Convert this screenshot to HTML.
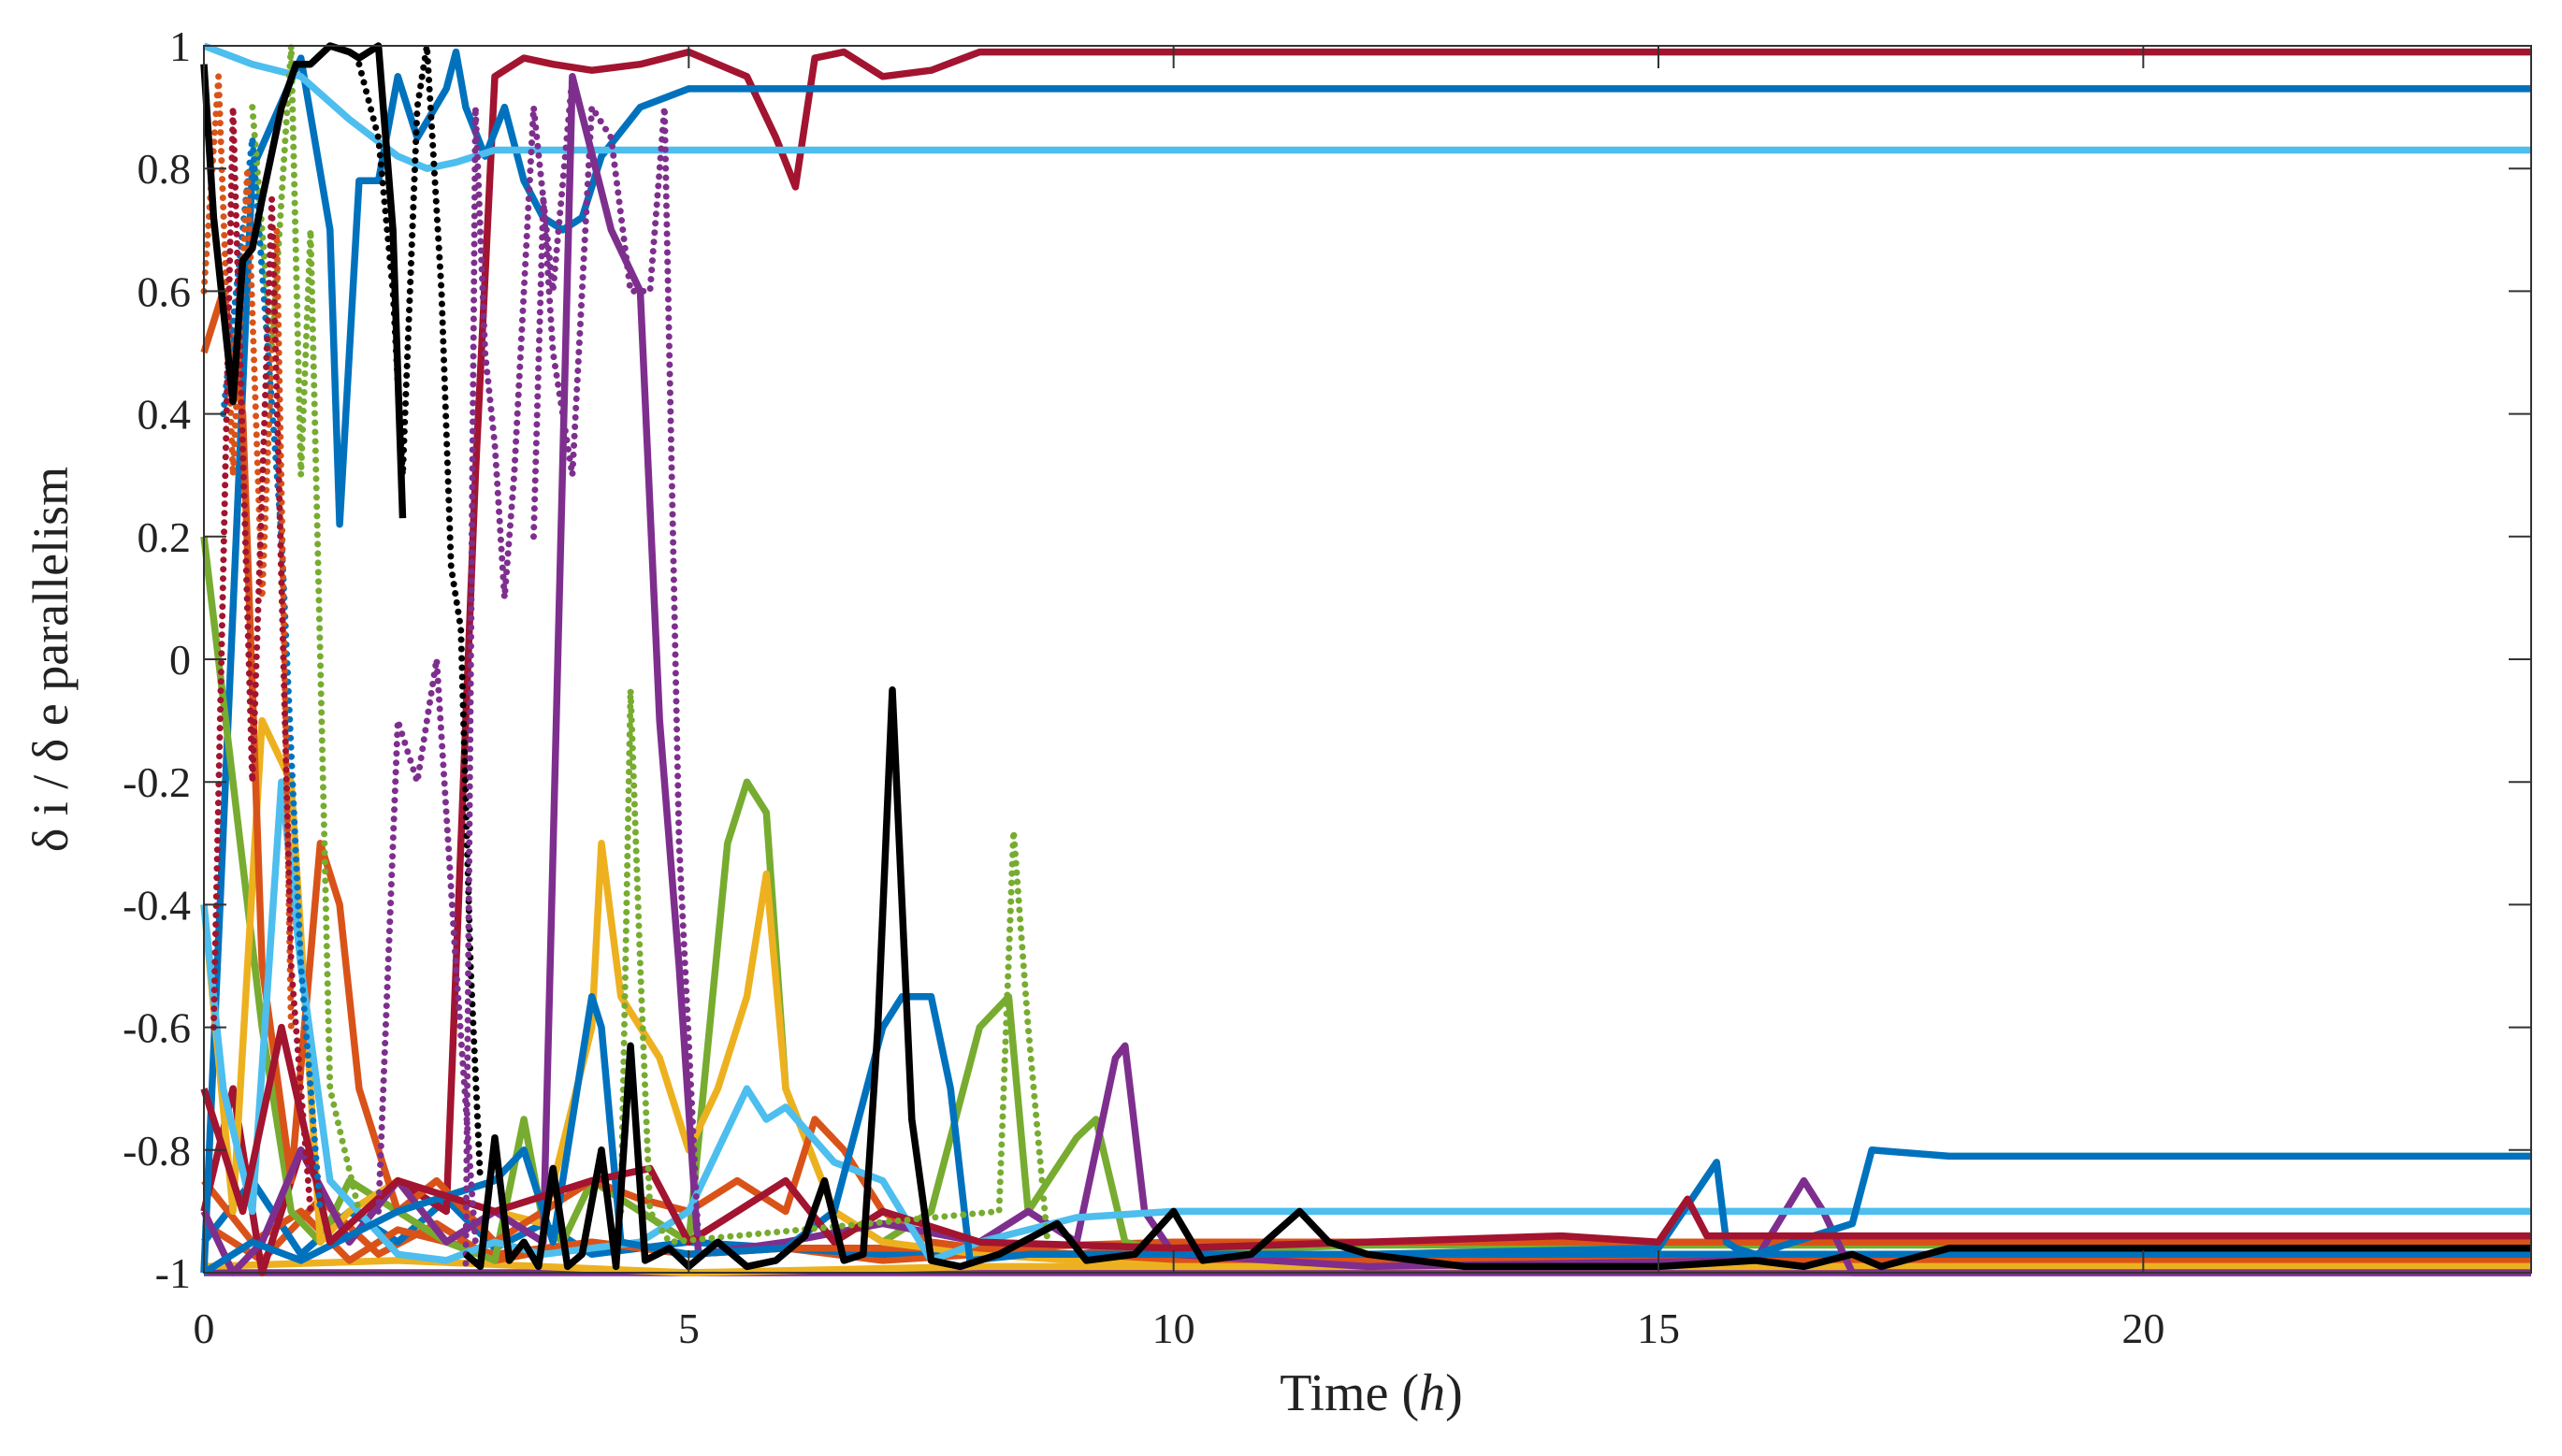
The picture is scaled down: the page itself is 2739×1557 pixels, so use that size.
<!DOCTYPE html>
<html><head><meta charset="utf-8"><style>
html,body{margin:0;padding:0;background:#fff;}
svg{display:block;font-family:"Liberation Serif",serif;}
</style></head><body>
<svg id="chart" width="2739" height="1557" viewBox="0 0 2739 1557" xmlns="http://www.w3.org/2000/svg">
<g id="plot"></g>
<g id="axes"></g>
<text x="1466" y="1508" font-size="56" text-anchor="middle" fill="#222">Time (<tspan font-style="italic">h</tspan>)</text>
<text transform="translate(72,705) rotate(-90)" font-size="54" text-anchor="middle" fill="#222">δ i / δ e parallelism</text>
</svg>
<script>
const xTicks=[0,5,10,15,20];
const yTicks=[-1,-0.8,-0.6,-0.4,-0.2,0,0.2,0.4,0.6,0.8,1];
const yTickLabels=["-1","-0.8","-0.6","-0.4","-0.2","0","0.2","0.4","0.6","0.8","1"];
const colors={b:"#0072BD",o:"#D95319",y:"#EDB120",p:"#7E2F8E",g:"#77AC30",c:"#4DBEEE",r:"#A2142F",k:"#000000"};
const s1T=[0,0.3,0.6,1,1.5,2,2.5,2.8,3.0,3.3,3.6,4,4.5,5,5.3,5.6,5.9,6.1,6.3,6.6,7,7.5,8,24];
const s1V=[-0.9,-0.7,-1,-0.8,-0.95,-0.85,-0.9,0.3,0.95,0.98,0.97,0.96,0.97,0.99,0.97,0.95,0.85,0.77,0.98,0.99,0.95,0.96,0.99,0.99];
const s2T=[0,0.5,1,1.3,1.4,1.6,1.8,2,2.2,2.5,2.6,2.7,2.9,3.1,3.3,3.5,3.7,3.9,4.1,4.5,5,6,24];
const s2V=[-1,0.8,0.98,0.7,0.22,0.78,0.78,0.95,0.85,0.93,0.99,0.9,0.82,0.9,0.78,0.72,0.70,0.72,0.82,0.9,0.93,0.93,0.93];
const s3T=[0,0.5,1,1.5,2,2.3,2.6,3,3.5,4,5,24];
const s3V=[1,0.97,0.95,0.88,0.82,0.80,0.81,0.83,0.83,0.83,0.83,0.83];
const s4T=[0,0.1,0.3,0.4,0.5,0.6,0.8,0.95,1.1,1.3,1.5,1.6,1.8,1.95,2.05];
const s4V=[0.97,0.72,0.42,0.65,0.67,0.75,0.9,0.97,0.97,1,0.99,0.98,1,0.7,0.23];
const s5T=[2.7,2.85,3.0,3.15,3.3,3.45,3.6,3.75,3.9,4.1,4.25,4.4,4.55,4.8,5.0,5.3,5.6,5.9,6.2,6.4,6.6,6.8,6.95,7.1,7.3,7.5,7.8,8.2,8.8,9.1,9.6,10,10.3,10.8,11.3,11.6,12,13,15,16,16.5,17,17.3,18,20,24];
const s5V=[-0.97,-0.99,-0.78,-0.98,-0.95,-0.99,-0.83,-0.99,-0.97,-0.8,-0.99,-0.63,-0.98,-0.96,-0.99,-0.95,-0.99,-0.98,-0.94,-0.85,-0.98,-0.97,-0.6,-0.05,-0.75,-0.98,-0.99,-0.97,-0.92,-0.98,-0.97,-0.9,-0.98,-0.97,-0.9,-0.95,-0.97,-0.99,-0.99,-0.98,-0.99,-0.97,-0.99,-0.96,-0.96,-0.96];
const s6T=[0,0.3,0.6,0.9,1.2,1.5,2,2.5,3,3.3,3.5,3.7,4,4.5,5,5.4,5.6,5.8,6,6.5,7,7.5,8,8.3,8.5,9,9.2,9.5,10,11,12,24];
const s6V=[0.2,-0.2,-0.6,-0.9,-0.95,-0.85,-0.9,-0.95,-0.98,-0.75,-0.92,-0.95,-0.85,-0.9,-0.95,-0.3,-0.2,-0.25,-0.7,-0.9,-0.95,-0.9,-0.6,-0.55,-0.9,-0.78,-0.75,-0.95,-0.97,-0.96,-0.955,-0.955];
const s7T=[0,0.3,0.6,0.9,1.2,1.5,2,2.5,3,3.5,4,4.1,4.3,4.7,5,5.3,5.6,5.8,6,6.5,7,8,9,10,12,24];
const s7V=[-0.4,-0.9,-0.1,-0.2,-0.95,-0.9,-0.85,-0.95,-0.9,-0.92,-0.6,-0.3,-0.55,-0.65,-0.8,-0.7,-0.55,-0.35,-0.7,-0.9,-0.95,-0.97,-0.98,-0.99,-0.99,-0.99];
const s8T=[0,0.2,0.4,0.6,0.9,1.2,1.4,1.6,2,2.4,3,3.5,4,4.5,5,5.5,6,6.3,6.6,7,7.5,8,9,10,24];
const s8V=[0.5,0.6,0.4,-0.5,-0.85,-0.3,-0.4,-0.7,-0.9,-0.85,-0.95,-0.9,-0.85,-0.88,-0.9,-0.85,-0.9,-0.75,-0.8,-0.9,-0.95,-0.96,-0.97,-0.95,-0.95];
const s9T=[0,0.3,0.6,1,1.5,2,2.5,3,3.5,3.8,4.2,4.5,4.7,4.9,5.1,6,7,8,8.5,9,9.4,9.5,9.7,10,12,16,16.5,16.7,17,24];
const s9V=[-0.9,-1,-0.95,-0.8,-0.95,-0.85,-0.95,-0.9,-0.95,0.95,0.7,0.6,-0.1,-0.5,-0.97,-0.95,-0.92,-0.95,-0.9,-0.95,-0.65,-0.63,-0.9,-0.97,-0.99,-0.98,-0.85,-0.9,-1,-1];
const s10T=[0,0.2,0.5,0.8,1,1.3,2,2.5,3,3.5,4,4.5,5,5.6,5.8,6,6.5,7,7.5,8,9,10,24];
const s10V=[-0.4,-0.7,-0.9,-0.2,-0.5,-0.85,-0.97,-0.98,-0.95,-0.97,-0.96,-0.95,-0.9,-0.7,-0.75,-0.73,-0.82,-0.85,-0.98,-0.95,-0.91,-0.9,-0.9];
const s11T=[0,0.5,1,2,3,3.3,3.6,4,4.1,4.3,5,6,6.5,7,7.2,7.5,7.7,7.9,8.5,10,12,15,15.6,15.7,15.8,16,17,17.2,18,24];
const s11V=[-1,-0.95,-0.98,-0.9,-0.85,-0.8,-0.95,-0.55,-0.6,-0.95,-0.97,-0.96,-0.9,-0.6,-0.55,-0.55,-0.7,-0.98,-0.97,-0.97,-0.97,-0.96,-0.82,-0.95,-0.96,-0.97,-0.92,-0.8,-0.81,-0.81];
const s12T=[0,0.4,0.8,1.3,2,3,4,4.6,5,5.5,6,6.5,7,8,10,12,14,15,15.3,15.5,16,24];
const s12V=[-0.7,-0.9,-0.6,-0.95,-0.85,-0.9,-0.85,-0.83,-0.95,-0.9,-0.85,-0.95,-0.9,-0.95,-0.96,-0.95,-0.94,-0.95,-0.88,-0.94,-0.94,-0.94];
const s13T=[0,2,5,8,10,12,24];
const s13V=[-0.99,-0.98,-1,-0.99,-0.99,-0.99,-0.99];
const s14T=[0,0.5,1,1.5,2,2.5,3,3.5,4,5,6,7,8,9,10,12,24];
const s14V=[-0.95,-0.85,-0.97,-0.9,-0.95,-0.88,-0.96,-0.92,-0.97,-0.95,-0.96,-0.97,-0.96,-0.97,-0.97,-0.97,-0.97];
const s15T=[0,0.6,1.2,1.8,2.4,3,4,5,6,7,8,10,12,24];
const s15V=[-0.92,-0.98,-0.88,-0.97,-0.92,-0.98,-0.95,-0.97,-0.96,-0.98,-0.97,-0.98,-0.98,-0.98];
const s16T=[0,0.5,1,1.5,2,3,4,5,6,8,10,12,24];
const s16V=[-0.85,-0.95,-0.9,-0.98,-0.93,-0.97,-0.95,-0.97,-0.96,-0.96,-0.95,-0.95,-0.95];
const d1T=[1.6,1.8,1.95,2.05,2.2,2.3,2.45,2.55,2.65,2.75,2.85];
const d1V=[0.97,0.85,0.6,0.3,0.9,1,0.6,0.15,0.05,-0.5,-0.85];
const d2T=[3.4,3.5,3.6,3.8,4.0,4.2,4.4,4.6,4.75,4.9,5.1];
const d2V=[0.2,0.75,0.5,0.3,0.9,0.85,0.6,0.6,0.9,-0.3,-0.95];
const d3T=[2.7,2.8,2.9,3.0,3.1,3.2,3.4,3.6,3.8];
const d3V=[-1,0.9,0.5,0.35,0.1,0.3,0.9,0.6,0.95];
const d4T=[0.5,0.7,0.9,1.0,1.1,1.3,1.6];
const d4V=[0.9,0.5,1,0.3,0.7,-0.7,-0.9];
const d5T=[4.3,4.4,4.5,4.6,4.8,8.2,8.35,8.5,8.7];
const d5V=[-0.9,-0.05,-0.5,-0.9,-0.95,-0.9,-0.28,-0.6,-0.95];
const d6T=[0.2,0.5,0.8,1.0,1.2];
const d6V=[0.4,0.85,0.2,-0.5,-0.9];
const d7T=[0,0.15,0.3,0.45,0.6,0.75,0.9];
const d7V=[0.6,0.95,0.3,0.8,0.1,0.7,-0.6];
const d8T=[0.1,0.3,0.5,0.7,0.9,1.1];
const d8V=[-0.6,0.9,-0.2,0.75,-0.5,-0.9];
const d9T=[1.8,2.0,2.2,2.4,2.6,2.8];
const d9V=[-0.9,-0.1,-0.2,0,-0.5,-0.95];

const series=[
 ["series-purple-bottom","p","solid",[0,24],[-1,-1]],
 ["series-yellow-bottom","y","solid",s13T,s13V],["series-orange-bottom","o","solid",s15T,s15V],["series-blue-bottom","b","solid",s14T,s14V],
 ["series-orange-mid","o","solid",s16T,s16V],
 ["series-red-upper","r","solid",s1T,s1V],["series-blue-upper","b","solid",s2T,s2V],["series-lightblue-upper","c","solid",s3T,s3V],
 ["series-green","g","solid",s6T,s6V],["series-yellow","y","solid",s7T,s7V],["series-orange","o","solid",s8T,s8V],
 ["series-purple","p","solid",s9T,s9V],["series-lightblue-lower","c","solid",s10T,s10V],["series-blue-lower","b","solid",s11T,s11V],
 ["series-red-lower","r","solid",s12T,s12V],
 ["series-black-dotted","k","dot",d1T,d1V],["series-purple-dotted","p","dot",d2T,d2V],["series-purple-dotted-2","p","dot",d3T,d3V],
 ["series-green-dotted","g","dot",d4T,d4V],["series-green-dotted-2","g","dot",d5T,d5V],["series-blue-dotted","b","dot",d6T,d6V],
 ["series-orange-dotted","o","dot",d7T,d7V],["series-red-dotted","r","dot",d8T,d8V],["series-purple-dotted-3","p","dot",d9T,d9V],
 ["series-black-upper","k","solid",s4T,s4V],["series-black-lower","k","solid",s5T,s5V]
];
const X0=218,X1=2706,Y0=1361,Y1=49;
const xs=t=>X0+(t/24)*(X1-X0);
const ys=v=>Y0-((v+1)/2)*(Y0-Y1);
const NS="http://www.w3.org/2000/svg";
const plot=document.getElementById('plot'),axes=document.getElementById('axes');
series.forEach(s=>{
 const p=document.createElementNS(NS,'path');
 
 
 p.setAttribute('d',s[3].map((t,i)=>(i?'L':'M')+xs(t).toFixed(1)+' '+ys(s[4][i]).toFixed(1)).join(' '));
 p.setAttribute('fill','none');p.setAttribute('stroke',colors[s[1]]);
 if(s[2]==='dot'){p.setAttribute('stroke-width','7');p.setAttribute('stroke-dasharray','0 10');p.setAttribute('stroke-linecap','round');}
 else{p.setAttribute('stroke-width','7.5');p.setAttribute('stroke-linejoin','round');}
 plot.appendChild(p);
});
const box=document.createElementNS(NS,'rect');


box.setAttribute('x',X0);box.setAttribute('y',Y1);box.setAttribute('width',X1-X0);box.setAttribute('height',Y0-Y1);
box.setAttribute('fill','none');box.setAttribute('stroke','#333');box.setAttribute('stroke-width','2');
axes.appendChild(box);
xTicks.forEach(t=>{
 const l=document.createElementNS(NS,'path');
 
 
 l.setAttribute('d',`M${xs(t)} ${Y0}v-24M${xs(t)} ${Y1}v24`);l.setAttribute('stroke','#333');l.setAttribute('stroke-width','2');
 axes.appendChild(l);
 const tx=document.createElementNS(NS,'text');
 
 
 tx.setAttribute('x',xs(t));tx.setAttribute('y',Y0+75);tx.setAttribute('font-size','46');tx.setAttribute('text-anchor','middle');tx.setAttribute('fill','#222');
 tx.textContent=t;axes.appendChild(tx);
});
yTicks.forEach((v,i)=>{
 const l=document.createElementNS(NS,'path');
 
 
 l.setAttribute('d',`M${X0} ${ys(v)}h24M${X1} ${ys(v)}h-24`);l.setAttribute('stroke','#333');l.setAttribute('stroke-width','2');
 axes.appendChild(l);
 const tx=document.createElementNS(NS,'text');
 
 
 tx.setAttribute('x',X0-14);tx.setAttribute('y',ys(v)+16);tx.setAttribute('font-size','46');tx.setAttribute('text-anchor','end');tx.setAttribute('fill','#222');
 tx.textContent=yTickLabels[i];axes.appendChild(tx);
});
</script>
</body></html>
